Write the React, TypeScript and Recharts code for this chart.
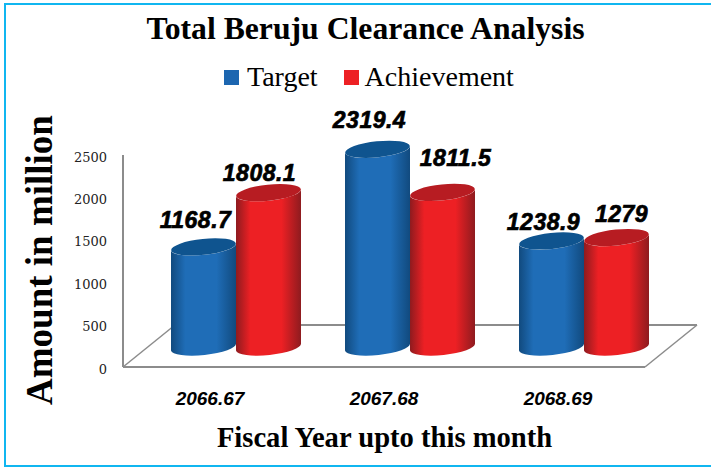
import { BarChart, Bar, XAxis, YAxis, Legend, LabelList, usePlotArea } from "recharts";

const fiscalYears = ["2066.67", "2067.68", "2068.69"];
const targetValues = [1168.7, 2319.4, 1238.9];
const achievementValues = [1808.1, 1811.5, 1279];
const yTicks = [0, 500, 1000, 1500, 2000, 2500];

const chartData = fiscalYears.map((year, i) => ({
  year,
  target: targetValues[i],
  achievement: achievementValues[i],
}));

// how far the floor runs back, bars stand in the middle of it
const DEPTH_X = 52;
const DEPTH_Y = 42;

// hand placed offsets for the value labels, relative to bar top
const targetNudge = [
  { dx: -8, dy: -28 },
  { dx: -8, dy: -30 },
  { dx: -8, dy: -20 },
];
const achievementNudge = [
  { dx: -9, dy: -21 },
  { dx: 13, dy: -35 },
  { dx: 5, dy: -25 },
];

const SERIF = '"Liberation Serif", serif';

function Floor() {
  const plot = usePlotArea();
  if (!plot) return null;
  const left = plot.x;
  const right = plot.x + plot.width;
  const base = plot.y + plot.height;
  return (
    <g fill="none" stroke="#8c8c8c">
      <path d={`M${left} ${base} L${left + DEPTH_X} ${base - DEPTH_Y}`} strokeWidth={1.5} />
      <path d={`M${right} ${base} L${right + DEPTH_X} ${base - DEPTH_Y}`} strokeWidth={1.5} />
      <path d={`M${left + DEPTH_X} ${base - DEPTH_Y} H${right + DEPTH_X}`} strokeWidth={2} />
    </g>
  );
}

function Cylinder(props: any) {
  const { x, y, width, height, gradient, capColor } = props;
  const left = x + DEPTH_X / 2;
  const right = left + width;
  const rx = width / 2;
  const ry = 8;
  const tilt = 3.5;
  const top = y - DEPTH_Y / 2;
  const bottom = y + height - DEPTH_Y / 2 + 1;
  const cx = left + rx;
  return (
    <g>
      <path
        d={`M${left} ${top + tilt} L${left} ${bottom + tilt} A${rx} ${ry} -6 0 0 ${right} ${bottom - tilt} L${right} ${top - tilt} A${rx} ${ry} -6 0 1 ${left} ${top + tilt} Z`}
        fill={`url(#${gradient})`}
      />
      <ellipse cx={cx} cy={top} rx={rx} ry={ry} fill={capColor} transform={`rotate(-6 ${cx} ${top})`} />
    </g>
  );
}

function valueLabel(nudges: { dx: number; dy: number }[]) {
  return (props: any) => {
    const { x, y, width, value, index } = props;
    const cx = x + DEPTH_X / 2 + width / 2 + nudges[index].dx;
    const cy = y - DEPTH_Y / 2 + 1 + nudges[index].dy;
    return (
      <text
        x={cx}
        y={cy}
        textAnchor="middle"
        dominantBaseline="central"
        fontFamily='"Liberation Sans", Arial, sans-serif'
        fontWeight="bold"
        fontStyle="italic"
        fontSize={23}
        letterSpacing={0.5}
        fill="#000"
        stroke="#000"
        strokeWidth={0.7}
      >
        {value}
      </text>
    );
  };
}

function LegendRow({ payload }: any) {
  return (
    <div style={{ display: "flex", alignItems: "center", fontFamily: SERIF, fontSize: 28, color: "#000", whiteSpace: "nowrap" }}>
      {(payload || []).map((entry: any, i: number) => (
        <div key={entry.value} style={{ display: "flex", alignItems: "center", marginLeft: i ? 26 : 0 }}>
          <span style={{ width: 15, height: 15, background: entry.color, marginRight: i ? 6 : 8 }} />
          <span>{entry.value}</span>
        </div>
      ))}
    </div>
  );
}

function CylinderGradient({ id, edge, mid }: { id: string; edge: string; mid: string }) {
  return (
    <linearGradient id={id} x1="0" y1="0" x2="1" y2="0">
      <stop offset="0%" stopColor={edge} />
      <stop offset="22%" stopColor={mid} />
      <stop offset="70%" stopColor={mid} />
      <stop offset="100%" stopColor={edge} />
    </linearGradient>
  );
}

export default function App() {
  return (
    <div style={{ position: "absolute", left: 0, top: 0, width: 711, height: 470, background: "#fff" }}>
      <div
        style={{
          position: "absolute",
          left: 4,
          top: 3,
          width: 710,
          height: 460,
          border: "2.5px solid #10b6f0",
        }}
      />
      <BarChart
        width={711}
        height={470}
        data={chartData}
        margin={{ top: 155, right: 66, bottom: 63, left: 63 }}
        barCategoryGap={22}
        barGap={0}
        style={{ position: "absolute", left: 0, top: 0 }}
      >
        <defs>
          <CylinderGradient id="blueCyl" edge="#114a7e" mid="#1f6db7" />
          <CylinderGradient id="redCyl" edge="#8e1b1f" mid="#ed2024" />
        </defs>
        <Floor />
        <XAxis
          dataKey="year"
          height={40}
          tickLine={false}
          axisLine={{ stroke: "#8c8c8c", strokeWidth: 2 }}
          tick={{
            fill: "#000",
            fontSize: 19,
            fontWeight: "bold",
            fontStyle: "italic",
            fontFamily: '"Liberation Sans", sans-serif',
          }}
          tickMargin={19}
        />
        <YAxis
          width={60}
          domain={[0, 2500]}
          ticks={yTicks}
          tickLine={false}
          axisLine={{ stroke: "#8c8c8c", strokeWidth: 2 }}
          tick={{ fill: "#222", fontSize: 13, fontFamily: '"DejaVu Serif", serif', dy: 2 }}
          tickMargin={10}
        />
        <Legend
          content={<LegendRow />}
          itemSorter={null}
          wrapperStyle={{ position: "absolute", left: 224, top: 61, width: "auto", height: 0, bottom: "auto" }}
        />
        <Bar
          dataKey="target"
          name="Target"
          fill="#1c66b0"
          isAnimationActive={false}
          shape={(p: any) => <Cylinder {...p} gradient="blueCyl" capColor="#0f548f" />}
        >
          <LabelList dataKey="target" content={valueLabel(targetNudge)} />
        </Bar>
        <Bar
          dataKey="achievement"
          name="Achievement"
          fill="#ed2024"
          isAnimationActive={false}
          shape={(p: any) => <Cylinder {...p} gradient="redCyl" capColor="#b71c22" />}
        >
          <LabelList dataKey="achievement" content={valueLabel(achievementNudge)} />
        </Bar>
        <text x={365.5} y={39} textAnchor="middle" fontFamily={SERIF} fontWeight="bold" fontSize={31.7} fill="#000">
          Total Beruju Clearance Analysis
        </text>
        <text
          x={52}
          y={260}
          textAnchor="middle"
          transform="rotate(-90 52 260)"
          fontFamily={SERIF}
          fontWeight="bold"
          fontSize={37}
          fill="#000"
        >
          Amount in million
        </text>
        <text x={384.5} y={447} textAnchor="middle" fontFamily={SERIF} fontWeight="bold" fontSize={28.6} fill="#000">
          Fiscal Year upto this month
        </text>
      </BarChart>
    </div>
  );
}
